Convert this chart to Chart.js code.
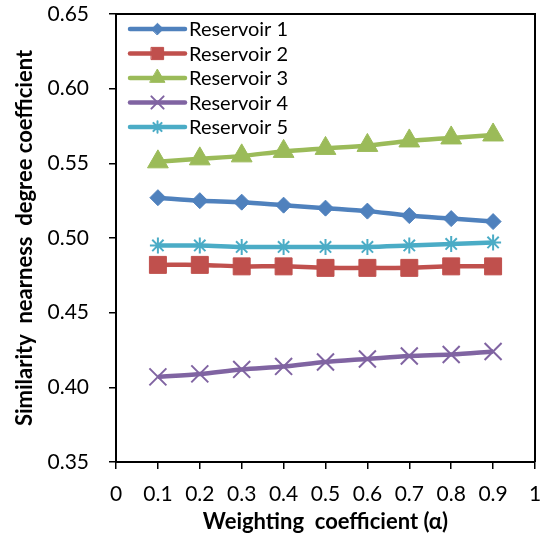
<!DOCTYPE html>
<html>
<head>
<meta charset="utf-8">
<script src="https://cdn.jsdelivr.net/npm/chart.js@4"></script>
<style>
  html, body { margin: 0; padding: 0; background: #fff; }
  #wrap { width: 549px; height: 537px; }
</style>
</head>
<body>
<div id="wrap"><canvas id="chart" width="549" height="537"></canvas></div>
<script>
// weighting coefficient values (x)
const alpha = [0.1, 0.2, 0.3, 0.4, 0.5, 0.6, 0.7, 0.8, 0.9];

// similarity nearness degree coefficient per reservoir
const reservoir1 = [0.527, 0.525, 0.524, 0.522, 0.520, 0.518, 0.515, 0.513, 0.511];
const reservoir2 = [0.482, 0.482, 0.481, 0.481, 0.480, 0.480, 0.480, 0.481, 0.481];
const reservoir3 = [0.551, 0.553, 0.555, 0.558, 0.560, 0.562, 0.565, 0.567, 0.569];
const reservoir4 = [0.407, 0.409, 0.412, 0.414, 0.417, 0.419, 0.421, 0.422, 0.424];
const reservoir5 = [0.495, 0.495, 0.494, 0.494, 0.494, 0.494, 0.495, 0.496, 0.497];

const seriesLabels = ['Reservoir 1', 'Reservoir 2', 'Reservoir 3', 'Reservoir 4', 'Reservoir 5'];
const seriesValues = [reservoir1, reservoir2, reservoir3, reservoir4, reservoir5];

// Office-style palette + markers
const colors = ['#4F81BD', '#C0504D', '#9BBB59', '#8064A2', '#4BACC6'];
const markers = ['rectRot', 'rect', 'triangle', 'crossRot', 'star'];
const markerSize = [8, 12, 12, 12, 8];

const FONT = 'Lato, "Open Sans", sans-serif';

// legend drawn inside the plot area, Excel-like (line with marker in the middle)
const insideLegend = {
    id: 'insideLegend',
    afterDraw(chart, args, opts) {
        const ctx = chart.ctx;
        const area = chart.chartArea;
        const drawPoint = Chart.helpers && Chart.helpers.drawPoint;
        chart.data.datasets.forEach((ds, i) => {
            const y = area.top + opts.top + i * opts.rowHeight;
            const x0 = area.left + opts.left;
            const x1 = x0 + opts.lineLength;
            ctx.save();
            ctx.strokeStyle = ds.borderColor;
            ctx.lineWidth = ds.borderWidth;
            ctx.lineCap = 'round';
            ctx.beginPath();
            ctx.moveTo(x0, y);
            ctx.lineTo(x1, y);
            ctx.stroke();
            if (drawPoint) {
                ctx.fillStyle = ds.pointBackgroundColor;
                ctx.strokeStyle = ds.pointBorderColor;
                ctx.lineWidth = ds.pointBorderWidth;
                drawPoint(ctx, {
                    pointStyle: ds.pointStyle,
                    radius: ds.pointRadius * 0.72,
                    rotation: 0,
                    borderWidth: ds.pointBorderWidth
                }, (x0 + x1) / 2, y);
            }
            ctx.fillStyle = '#000';
            ctx.font = opts.font;
            ctx.textAlign = 'left';
            ctx.textBaseline = 'middle';
            ctx.fillText(ds.label, x1 + opts.gap, y + 1);
            ctx.restore();
        });
    }
};

// top and right edges of the plot frame
const frameBorder = {
    id: 'frameBorder',
    afterDraw(chart) {
        const { ctx, chartArea: a } = chart;
        ctx.save();
        ctx.strokeStyle = '#000';
        ctx.lineWidth = 2;
        ctx.beginPath();
        ctx.moveTo(a.left, a.top);
        ctx.lineTo(a.right, a.top);
        ctx.lineTo(a.right, a.bottom);
        ctx.stroke();
        ctx.restore();
    }
};

const datasets = seriesLabels.map((label, i) => ({
    label: label,
    data: alpha.map((a, j) => ({ x: a, y: seriesValues[i][j] })),
    borderColor: colors[i],
    backgroundColor: colors[i],
    borderWidth: 4.5,
    tension: 0.3,
    pointStyle: markers[i],
    pointRadius: markerSize[i],
    pointHoverRadius: markerSize[i],
    pointBackgroundColor: colors[i],
    pointBorderColor: colors[i],
    pointBorderWidth: (markers[i] === 'crossRot' || markers[i] === 'star') ? 2 : 1
}));

new Chart(document.getElementById('chart'), {
    type: 'line',
    data: { datasets: datasets },
    options: {
        responsive: false,
        animation: false,
        layout: { padding: { top: 14, right: 9, left: 0, bottom: 0 } },
        plugins: {
            legend: { display: false },
            tooltip: { enabled: false },
            insideLegend: {
                left: 14, top: 15, rowHeight: 24.5, lineLength: 55, gap: 4,
                font: '20px ' + FONT
            }
        },
        scales: {
            x: {
                type: 'linear',
                min: 0,
                max: 1,
                afterFit: (scale) => {
                    scale.height = 75;
                    scale.paddingLeft = 0;
                    scale.paddingRight = 0;
                },
                ticks: {
                    stepSize: 0.1,
                    padding: 13,
                    color: '#000',
                    font: { family: FONT, size: 21 },
                    maxRotation: 0,
                    autoSkip: false,
                    callback: (v) => (v === 0 || v === 1) ? String(v) : Number(v).toFixed(1)
                },
                grid: { drawOnChartArea: false, drawTicks: true, tickLength: 7, color: '#000', lineWidth: 1.5 },
                border: { display: true, color: '#000', width: 2 },
                title: {
                    display: true,
                    text: 'Weighting  coefficient (α)',
                    color: '#000',
                    font: { family: FONT, size: 22, weight: 'bold' },
                    padding: { top: 0, bottom: 2 }
                }
            },
            y: {
                min: 0.35,
                max: 0.65,
                afterFit: (scale) => {
                    scale.width = 116;
                    scale.paddingTop = 0;
                    scale.paddingBottom = 0;
                },
                ticks: {
                    stepSize: 0.05,
                    padding: 20,
                    color: '#000',
                    font: { family: FONT, size: 21 },
                    callback: (v) => Number(v).toFixed(2)
                },
                grid: { drawOnChartArea: false, drawTicks: true, tickLength: 7, color: '#000', lineWidth: 1.5 },
                border: { display: true, color: '#000', width: 2 },
                title: {
                    display: true,
                    text: 'Similarity  nearness  degree coefficient',
                    color: '#000',
                    font: { family: FONT, size: 22, weight: 'bold' },
                    padding: { top: 12, bottom: 0 }
                }
            }
        }
    },
    plugins: [insideLegend, frameBorder]
});
</script>
</body>
</html>
